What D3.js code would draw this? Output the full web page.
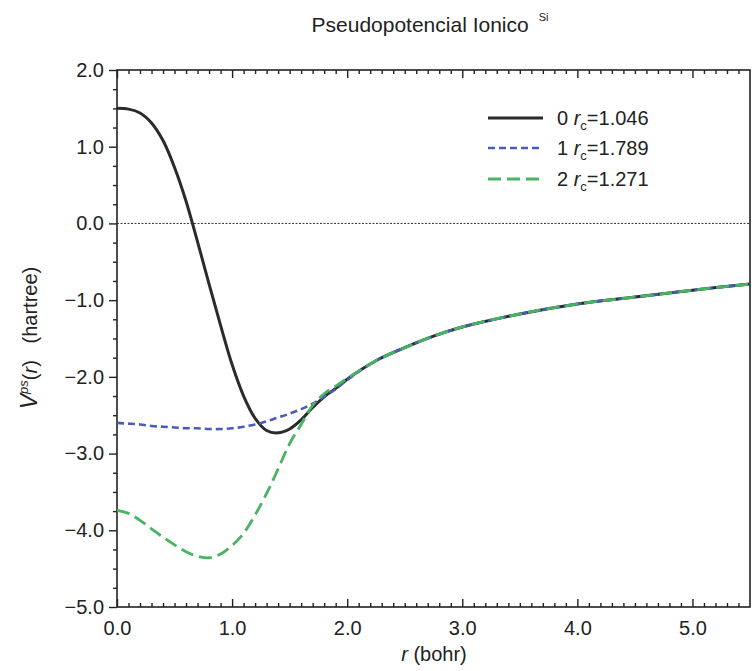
<!DOCTYPE html>
<html>
<head>
<meta charset="utf-8">
<script src="https://cdn.jsdelivr.net/npm/d3@7"></script>
<style>
  html, body { margin: 0; padding: 0; background: #fff; }
  svg { display: block; font-family: "Liberation Sans", Arial, Helvetica, sans-serif; }
</style>
</head>
<body>
<svg id="chart" width="754" height="671"></svg>
<script>
// ---- data ----
const radii = [0, 0.1, 0.2, 0.3, 0.4, 0.5, 0.6, 0.7, 0.8, 0.9, 1.0, 1.1, 1.2, 1.3, 1.4, 1.5, 1.6, 1.7, 1.8, 1.9, 2.0,
               2.25, 2.5, 2.75, 3.0, 3.5, 4.0, 4.5, 5.0, 5.5];
const vL0 = [1.50, 1.49, 1.44, 1.31, 1.08, 0.73, 0.29, -0.24, -0.79, -1.33, -1.84, -2.25, -2.54, -2.70, -2.73, -2.68, -2.56, -2.40, -2.26, -2.15, -2.03,
             -1.79, -1.62, -1.47, -1.35, -1.18, -1.05, -0.96, -0.87, -0.79];
const vL1 = [-2.60, -2.61, -2.62, -2.64, -2.65, -2.66, -2.67, -2.67, -2.68, -2.68, -2.67, -2.65, -2.62, -2.58, -2.53, -2.48, -2.42, -2.35, -2.26, -2.16, -2.04,
             -1.79, -1.62, -1.47, -1.35, -1.18, -1.05, -0.96, -0.87, -0.79];
const vL2 = [-3.74, -3.78, -3.87, -3.98, -4.09, -4.19, -4.28, -4.34, -4.36, -4.31, -4.20, -4.04, -3.80, -3.52, -3.20, -2.87, -2.62, -2.37, -2.22, -2.12, -2.02,
             -1.79, -1.62, -1.47, -1.35, -1.18, -1.05, -0.96, -0.87, -0.79];
const seriesL = ["0", "1", "2"];
const seriesRc = ["1.046", "1.789", "1.271"];
const xTicks = [0, 1, 2, 3, 4, 5];
const yTicks = [2, 1, 0, -1, -2, -3, -4, -5];
const xDomain = [0, 5.5];
const yDomain = [-5, 2];

// ---- layout ----
const svg = d3.select("#chart");
const L = 117, R = 750, T = 70, B = 607;
const x = d3.scaleLinear().domain(xDomain).range([L, R]);
const y = d3.scaleLinear().domain(yDomain).range([B, T]);

const colors = ["#2b2b2b", "#4b5cb8", "#46b460"];
const dashes = [null, "7,4", "13,6"];
const widths = [3, 2.6, 2.8];

// frame
svg.append("rect").attr("x", L).attr("y", T).attr("width", R - L).attr("height", B - T)
  .attr("fill", "none").attr("stroke", "#222").attr("stroke-width", 1.6);

// minor tick values
const xMinor = d3.range(0, 55).map(i => i / 10).filter(v => Math.abs(v - Math.round(v)) > 1e-6);
const yMinor = d3.range(-20, 9).map(i => i / 4).filter(v => Math.abs(v - Math.round(v)) > 1e-6);

const fmt = d => (d < 0 ? "\u2212" : "") + Math.abs(d).toFixed(1);

function styleAxis(g) {
  g.select(".domain").remove();
  g.selectAll("line").attr("stroke", "#222").attr("stroke-width", 1.4);
  g.selectAll("text").attr("fill", "#222").attr("font-size", 20)
    .attr("font-family", "'Liberation Sans', Arial, Helvetica, sans-serif");
}

// left axis (outward ticks)
svg.append("g").attr("transform", `translate(${L},0)`)
  .call(d3.axisLeft(y).tickValues(yTicks).tickSize(8).tickPadding(5).tickFormat(fmt)).call(styleAxis);
svg.append("g").attr("transform", `translate(${L},0)`)
  .call(d3.axisLeft(y).tickValues(yMinor).tickSize(4).tickFormat("")).call(styleAxis);

// bottom axis (inward ticks)
svg.append("g").attr("transform", `translate(0,${B})`)
  .call(d3.axisBottom(x).tickValues(xTicks).tickSizeInner(-8).tickSizeOuter(0).tickPadding(14).tickFormat(d => d.toFixed(1)))
  .call(styleAxis);
svg.append("g").attr("transform", `translate(0,${B})`)
  .call(d3.axisBottom(x).tickValues(xMinor).tickSizeInner(-4).tickSizeOuter(0).tickFormat("")).call(styleAxis);

// top axis (inward ticks)
svg.append("g").attr("transform", `translate(0,${T})`)
  .call(d3.axisTop(x).tickValues(xTicks).tickSizeInner(-8).tickSizeOuter(0).tickFormat("")).call(styleAxis);
svg.append("g").attr("transform", `translate(0,${T})`)
  .call(d3.axisTop(x).tickValues(xMinor).tickSizeInner(-4).tickSizeOuter(0).tickFormat("")).call(styleAxis);

// zero line (dotted)
svg.append("line").attr("x1", x(0)).attr("x2", x(5.5)).attr("y1", y(0)).attr("y2", y(0))
  .attr("stroke", "#333").attr("stroke-width", 1).attr("stroke-dasharray", "2,1.5");

// curves
const allV = [vL0, vL1, vL2];
const line = d3.line().x(d => x(d[0])).y(d => y(d[1])).curve(d3.curveCatmullRom.alpha(0.5));
allV.forEach((vals, i) => {
  const pts = radii.map((r, k) => [r, vals[k]]);
  svg.append("path").datum(pts).attr("d", line)
    .attr("fill", "none").attr("stroke", colors[i]).attr("stroke-width", widths[i])
    .attr("stroke-dasharray", dashes[i]).attr("stroke-linejoin", "round");
});

// legend
const legY = [118, 148, 179];
seriesL.forEach((l, i) => {
  svg.append("line").attr("x1", 488).attr("x2", 543).attr("y1", legY[i]).attr("y2", legY[i])
    .attr("stroke", colors[i]).attr("stroke-width", widths[i]).attr("stroke-dasharray", dashes[i]);
  const t = svg.append("text").attr("x", 557).attr("y", legY[i] + 7).attr("font-size", 20).attr("fill", "#222");
  t.append("tspan").text(l + " ");
  t.append("tspan").attr("font-style", "italic").text("r");
  t.append("tspan").attr("font-size", 13).attr("dy", 5).text("c");
  t.append("tspan").attr("dy", -5).text("=" + seriesRc[i]);
});

// title
const title = svg.append("text").attr("x", 430).attr("y", 32).attr("text-anchor", "middle")
  .attr("font-size", 21).attr("fill", "#222");
title.append("tspan").text("Pseudopotencial Ionico");
title.append("tspan").attr("font-size", 11).attr("dx", 10).attr("dy", -11).text("Si");

// x label
const xl = svg.append("text").attr("x", 434).attr("y", 661).attr("text-anchor", "middle")
  .attr("font-size", 20).attr("fill", "#222");
xl.append("tspan").attr("font-style", "italic").text("r");
xl.append("tspan").text(" (bohr)");

// y label
const yl = svg.append("text").attr("transform", "translate(37,338) rotate(-90)").attr("text-anchor", "middle")
  .attr("font-size", 20).attr("fill", "#222");
yl.append("tspan").attr("font-style", "italic").attr("font-size", 23).text("V");
yl.append("tspan").attr("font-style", "italic").attr("font-size", 13).attr("dy", -9).text("ps");
yl.append("tspan").attr("dy", 9).text("(");
yl.append("tspan").attr("font-style", "italic").text("r");
yl.append("tspan").text(")\u00a0\u00a0 (hartree)");
</script>
</body>
</html>
